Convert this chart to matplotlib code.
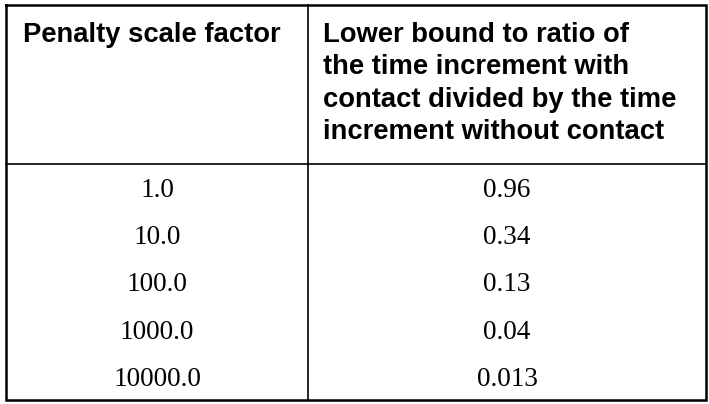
import matplotlib
matplotlib.use('Agg')
import matplotlib.pyplot as plt

# Table data
header_col1 = ['Penalty scale factor']
header_col2 = ['Lower bound to ratio of',
               'the time increment with',
               'contact divided by the time',
               'increment without contact']
penalty_factors = [1.0, 10.0, 100.0, 1000.0, 10000.0]
ratio_bounds = [0.96, 0.34, 0.13, 0.04, 0.013]

# Layout (pixel units, y grows downward)
W, H = 709, 404
left, right, top, bottom = 6, 706, 5, 400
col_split = 308
head_split = 164
head_base0, head_step = 42, 32.3
body_base0, body_step = 197, 47.2

fig = plt.figure(figsize=(W / 100, H / 100), dpi=100)
ax = fig.add_axes([0, 0, 1, 1])
ax.set_xlim(0, W)
ax.set_ylim(H, 0)
ax.axis('off')

# outer frame
ax.plot([left, right, right, left, left], [top, top, bottom, bottom, top],
        color='black', lw=1.8, solid_joinstyle='miter')
# inner lines
ax.plot([col_split, col_split], [top, bottom], color='black', lw=1.2)
ax.plot([left, right], [head_split, head_split], color='black', lw=1.2)

head_font = dict(family='Liberation Sans', weight='bold', size=19.7)
body_font = dict(family='Liberation Serif', size=19.6)

for i, line in enumerate(header_col1):
    ax.text(23, head_base0 + i * head_step, line, ha='left', va='baseline', **head_font)
for i, line in enumerate(header_col2):
    ax.text(323, head_base0 + i * head_step, line, ha='left', va='baseline', **head_font)

c1 = (left + col_split) / 2
c2 = (col_split + right) / 2
for i, (p, r) in enumerate(zip(penalty_factors, ratio_bounds)):
    y = body_base0 + i * body_step
    ax.text(c1, y, '%.1f' % p, ha='center', va='baseline', **body_font)
    ax.text(c2, y, str(r), ha='center', va='baseline', **body_font)

plt.savefig('out.png', dpi=100)
